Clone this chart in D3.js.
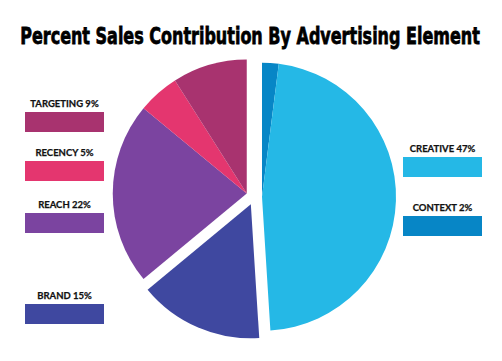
<!DOCTYPE html>
<html>
<head>
<meta charset="utf-8">
<script src="https://cdn.jsdelivr.net/npm/d3@7"></script>
<style>
  body { margin: 0; background: #fff; }
  svg { display: block; }
  .title { font-family: 'Liberation Sans Narrow', 'DejaVu Sans', sans-serif; font-weight: bold; }
  .legend-label { font-family: Lato, 'Open Sans', sans-serif; font-weight: bold; }
</style>
</head>
<body>
<div class="d3-wrapper"></div>
<script>
// chart data (pie order: clockwise from 12 o'clock)
const categories = ['CONTEXT', 'CREATIVE', 'BRAND', 'REACH', 'RECENCY', 'TARGETING'];
const values = [2, 47, 15, 22, 5, 9];
const colors = ['#0786c6', '#25b8e6', '#3f48a0', '#7b44a0', '#e4366f', '#a8336f'];

const WIDTH = 502, HEIGHT = 361;
const CENTER = { x: 254, y: 197 };
const RADIUS = 134;
const EXPLODE = 8;
// slices that move out together
const EXPLODE_GROUPS = [[0, 1], [2], [3, 4, 5]];

// legend layout: [category index, rect top y]
const LEGEND_LEFT = { x: 25, items: [[5, 112], [4, 161], [3, 213], [2, 304]] };
const LEGEND_RIGHT = { x: 403, items: [[1, 157], [0, 216]] };
const RECT = { width: 79, height: 20 };
const TITLE_WIDTH = 460;

const svg = d3.select('.d3-wrapper').append('svg')
  .attr('width', WIDTH)
  .attr('height', HEIGHT);

// condensed heavy title: squeeze horizontally to fit
const titleG = svg.append('g');
const title = titleG.append('text')
  .attr('class', 'title')
  .attr('text-anchor', 'middle')
  .style('font-size', '23px')
  .style('stroke', '#000')
  .style('stroke-width', 0.8)
  .text('Percent Sales Contribution By Advertising Element');
const sx = Math.min(1, TITLE_WIDTH / title.node().getComputedTextLength());
titleG.attr('transform', `translate(${WIDTH / 2 - 1},44) scale(${sx},1)`);

const pie = d3.pie().sort(null).value(d => d.value);
const arc = d3.arc().innerRadius(0).outerRadius(RADIUS);

const data = categories.map((c, i) => ({ name: c, value: values[i], color: colors[i] }));
const arcs = pie(data);

// offset per slice = along the mid angle of its group
const offsets = {};
EXPLODE_GROUPS.forEach(g => {
  const a0 = arcs[g[0]].startAngle, a1 = arcs[g[g.length - 1]].endAngle;
  const mid = (a0 + a1) / 2;
  g.forEach(i => { offsets[i] = [Math.sin(mid) * EXPLODE, -Math.cos(mid) * EXPLODE]; });
});

svg.append('g')
  .attr('transform', `translate(${CENTER.x},${CENTER.y})`)
  .selectAll('path')
  .data(arcs)
  .enter().append('path')
  .attr('d', arc)
  .attr('transform', d => `translate(${offsets[d.index][0]},${offsets[d.index][1]})`)
  .style('fill', d => d.data.color);

function drawLegend(cfg) {
  const item = svg.selectAll(null)
    .data(cfg.items)
    .enter().append('g')
    .attr('transform', d => `translate(${cfg.x},${d[1]})`);

  item.append('rect')
    .attr('width', RECT.width)
    .attr('height', RECT.height)
    .style('fill', d => colors[d[0]]);

  item.append('text')
    .attr('class', 'legend-label')
    .attr('x', RECT.width / 2)
    .attr('y', -5)
    .attr('text-anchor', 'middle')
    .style('font-size', '9.5px')
    .style('fill', '#111')
    .style('stroke', '#111')
    .style('stroke-width', 0.25)
    .text(d => categories[d[0]] + ' ' + values[d[0]] + '%');
}
drawLegend(LEGEND_LEFT);
drawLegend(LEGEND_RIGHT);
</script>
</body>
</html>
